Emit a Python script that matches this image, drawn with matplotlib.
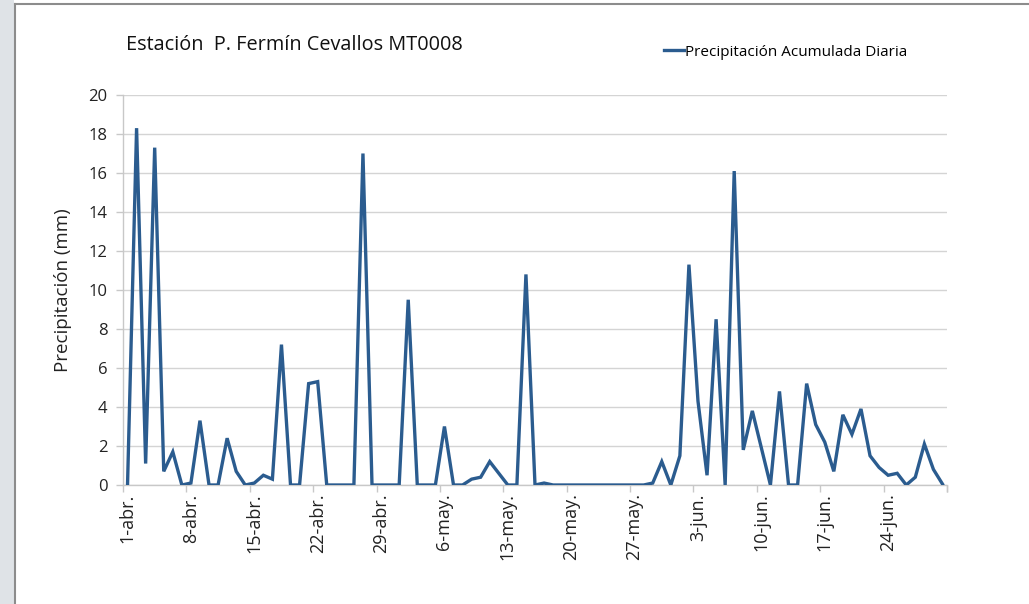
import matplotlib
matplotlib.use("Agg")
import matplotlib.pyplot as plt
from matplotlib.patches import Rectangle
from matplotlib.lines import Line2D

title = "Estación  P. Fermín Cevallos MT0008"
series_name = "Precipitación Acumulada Diaria"
y_label = "Precipitación (mm)"

precip = [0, 18.3, 1.1, 17.3, 0.7, 1.7, 0, 0.1, 3.3, 0,
          0, 2.4, 0.7, 0, 0.1, 0.5, 0.3, 7.2, 0, 0,
          5.2, 5.3, 0, 0, 0, 0, 17.0, 0, 0, 0,
          0, 9.5, 0, 0, 0, 3.0, 0, 0, 0.3, 0.4,
          1.2, 0.6, 0, 0, 10.8, 0, 0.1, 0, 0, 0,
          0, 0, 0, 0, 0, 0, 0, 0, 0.1, 1.2,
          0, 1.5, 11.3, 4.3, 0.5, 8.5, 0, 16.1, 1.8, 3.8,
          1.9, 0, 4.8, 0, 0, 5.2, 3.1, 2.2, 0.7, 3.6,
          2.6, 3.9, 1.5, 0.9, 0.5, 0.6, 0, 0.4, 2.1, 0.8,
          0.05]
tick_labels = ["1-abr.", "8-abr.", "15-abr.", "22-abr.", "29-abr.", "6-may.",
               "13-may.", "20-may.", "27-may.", "3-jun.", "10-jun.", "17-jun.", "24-jun."]
y_ticks = [0, 2, 4, 6, 8, 10, 12, 14, 16, 18, 20]

FONT = ["Open Sans", "DejaVu Sans"]
plt.rcParams['font.family'] = FONT

fig = plt.figure(figsize=(10.29, 6.04), dpi=100)
W, H = 1029, 604

# frame decoration
fig.patches.append(Rectangle((0, 0), 14 / W, 1, transform=fig.transFigure,
                             facecolor="#dfe3e7", edgecolor="none", zorder=0))
fig.add_artist(Line2D([14.5 / W, 14.5 / W], [0, 1 - 3.5 / H], transform=fig.transFigure,
                      color="#8c8c8c", lw=1.5))
fig.add_artist(Line2D([14.5 / W, 1], [1 - 3.5 / H, 1 - 3.5 / H], transform=fig.transFigure,
                      color="#8c8c8c", lw=1.5))

ax = fig.add_axes([123 / W, 1 - 485 / H, (947 - 123) / W, (485 - 95) / H])
x = list(range(len(precip)))
ax.plot(x, precip, color="#2b5c8f", lw=2.4, solid_joinstyle="miter", label=series_name, zorder=3)

ax.set_xlim(-0.5, len(precip) - 0.5)
ax.set_ylim(0, 20)
ax.set_yticks(y_ticks)
ax.set_yticklabels([str(v) for v in y_ticks], fontsize=12, color="#222222")
ax.yaxis.grid(True, color="#d4d4d4", lw=1)
ax.set_axisbelow(True)

label_pos = list(range(0, len(precip), 7))[:len(tick_labels)]
ax.set_xticks(label_pos)
ax.set_xticklabels(tick_labels, rotation=90, fontsize=13, color="#222222")
ax.tick_params(axis="x", length=0, pad=6)
minor = [p - 0.5 for p in range(0, len(precip) + 1, 7)] + [len(precip) - 0.5]
ax.set_xticks(minor, minor=True)
ax.tick_params(axis="x", which="minor", length=5, color="#c8c8c8", width=1)
ax.tick_params(axis="y", length=5, color="#c8c8c8", width=1, pad=6)

for s in ["top", "right"]:
    ax.spines[s].set_visible(False)
for s in ["left", "bottom"]:
    ax.spines[s].set_color("#c8c8c8")
    ax.spines[s].set_linewidth(1)

ax.set_ylabel(y_label, fontsize=13.5, color="#222222", labelpad=12)

fig.text(126 / W, 1 - 45 / H, title, fontsize=14.3, va="center", ha="left", color="#111111")
leg = ax.legend(loc="center left", bbox_to_anchor=(664 / W, 1 - 52 / H), bbox_transform=fig.transFigure,
                frameon=False, handlelength=1.3, handletextpad=0.1, borderpad=0, borderaxespad=0,
                prop={"size": 11})

fig.savefig("out.png", dpi=100, facecolor="white")
